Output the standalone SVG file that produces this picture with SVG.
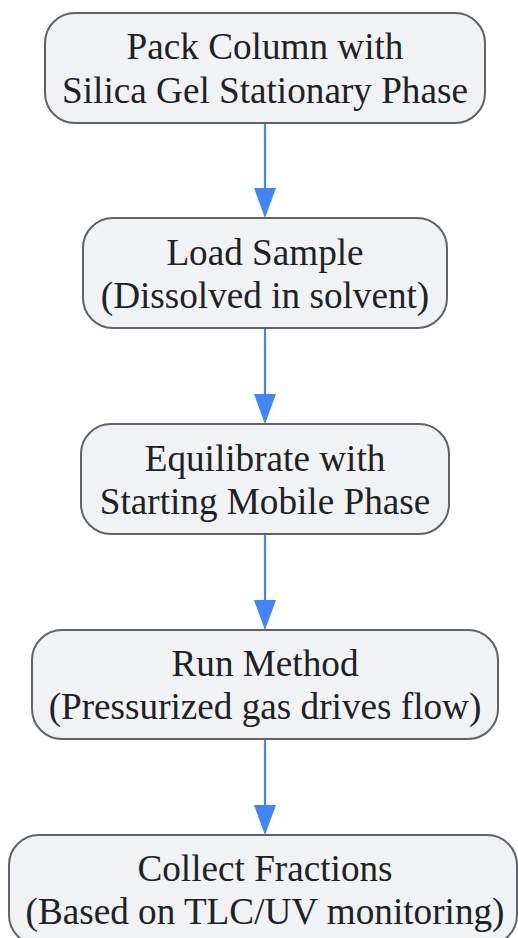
<svg xmlns="http://www.w3.org/2000/svg" width="518" height="938" viewBox="0 0 518 938">
<defs>
<style>
.box{fill:#f1f2f4;stroke:#5f6368;stroke-width:2}
.t{font-family:"Liberation Serif","Times New Roman",serif;font-size:37.2px;fill:#202124;text-anchor:middle}
.edge{stroke:#4285f4;stroke-width:2.2;fill:none}
</style>
<marker id="ah" viewBox="0 0 30 22" refX="28" refY="11" markerWidth="30" markerHeight="22" markerUnits="userSpaceOnUse" orient="auto">
<path d="M0,0 L30,11 L0,22 Z" fill="#4285f4"/>
</marker>
</defs>
<rect width="518" height="938" fill="#ffffff"/>
<g id="connectors">
<line class="edge" x1="265" y1="123" x2="265" y2="216" marker-end="url(#ah)"/>
<line class="edge" x1="265" y1="328" x2="265" y2="422" marker-end="url(#ah)"/>
<line class="edge" x1="265" y1="534" x2="265" y2="628" marker-end="url(#ah)"/>
<line class="edge" x1="265" y1="739" x2="265" y2="833" marker-end="url(#ah)"/>
</g>
<g id="node1">
<rect class="box" x="45" y="13" width="440" height="110" rx="30"/>
<text class="t" x="265" y="59">Pack Column with</text>
<text class="t" x="265" y="103">Silica Gel Stationary Phase</text>
</g>
<g id="node2">
<rect class="box" x="83" y="218" width="364" height="110" rx="30"/>
<text class="t" x="265" y="265">Load Sample</text>
<text class="t" x="265" y="308">(Dissolved in solvent)</text>
</g>
<g id="node3">
<rect class="box" x="81" y="424" width="368" height="110" rx="30"/>
<text class="t" x="265" y="471">Equilibrate with</text>
<text class="t" x="265" y="514">Starting Mobile Phase</text>
</g>
<g id="node4">
<rect class="box" x="32" y="630" width="466" height="109" rx="30"/>
<text class="t" x="265" y="676">Run Method</text>
<text class="t" x="265" y="719">(Pressurized gas drives flow)</text>
</g>
<g id="node5">
<rect class="box" x="9" y="835" width="508" height="110" rx="30"/>
<text class="t" x="265" y="881">Collect Fractions</text>
<text class="t" x="265" y="924">(Based on TLC/UV monitoring)</text>
</g>
</svg>
